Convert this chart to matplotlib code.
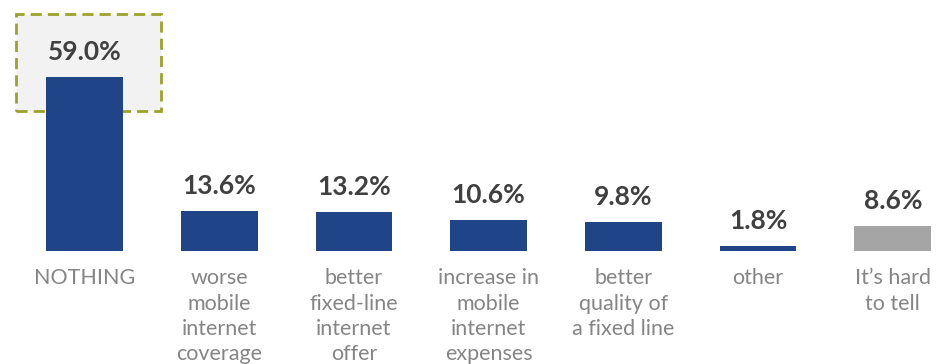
import numpy as np
import matplotlib
import matplotlib.pyplot as plt
from matplotlib.patches import Rectangle

matplotlib.rc('font', family='Lato')

# data
categories = ['NOTHING', 'worse\nmobile\ninternet\ncoverage', 'better\nfixed-line\ninternet\noffer',
              'increase in\nmobile\ninternet\nexpenses', 'better\nquality of\na fixed line',
              'other', 'It\u2019s hard\nto tell']
values = [59.0, 13.6, 13.2, 10.6, 9.8, 1.8, 8.6]
colors = ['#1f4488'] * 6 + ['#a5a5a5']

x_pos = np.arange(len(categories))

fig = plt.figure(figsize=(9.36, 3.64), dpi=100)
ax = fig.add_axes([0, 0.3104, 1, 0.6896])

# highlight box behind the first bar
box = Rectangle((-0.508, 47.5), 1.076, 32.8, facecolor='#f2f2f2', edgecolor='#9aa32a',
                linewidth=2, linestyle=(0, (4, 2.2)), zorder=1)
ax.add_patch(box)

ax.bar(x_pos, values, 0.57, color=colors, zorder=2)

for x, v in zip(x_pos, values):
    ax.annotate(f'{v:.1f}%', (x, v), xytext=(0, 12), textcoords='offset points',
                ha='center', va='baseline', fontsize=19, fontweight='bold', color='#404040')

ax.set_xticks(x_pos, categories)
ax.tick_params(axis='x', length=0, pad=12.5, labelsize=15.5, labelcolor='#858585')
for lbl in ax.get_xticklabels():
    lbl.set_linespacing(1.33)
    lbl.set_ha('center')

ax.set_xlim(-0.627, 6.321)
ax.set_ylim(0, 85.1)
ax.set_yticks([])
for s in ax.spines.values():
    s.set_visible(False)

plt.savefig('out.png', dpi=100)
